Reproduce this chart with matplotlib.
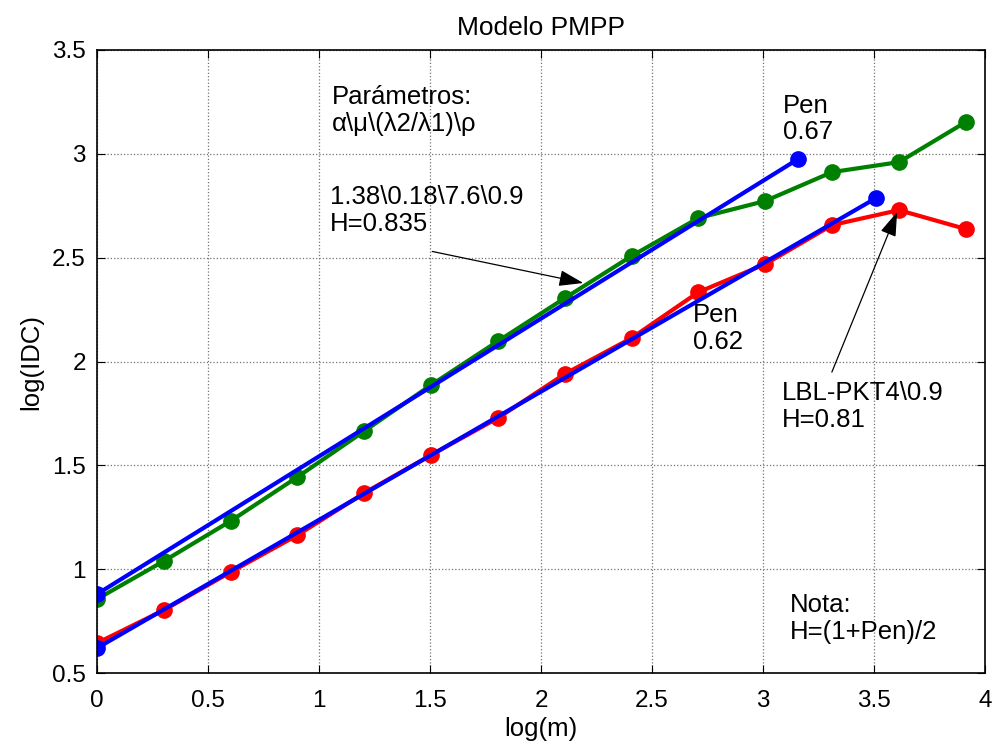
import matplotlib
matplotlib.use("Agg")
import matplotlib.pyplot as plt
import numpy as np

plt.rcParams['font.family'] = ['Liberation Sans', 'DejaVu Sans']

log_m = [0, 0.301, 0.602, 0.903, 1.204, 1.505, 1.806, 2.107, 2.408, 2.709, 3.010, 3.311, 3.612, 3.913]
green_y = [0.856, 1.039, 1.232, 1.444, 1.665, 1.887, 2.098, 2.305, 2.508, 2.691, 2.773, 2.912, 2.960, 3.153]
red_y = [0.644, 0.803, 0.986, 1.164, 1.367, 1.550, 1.728, 1.940, 2.113, 2.334, 2.469, 2.657, 2.729, 2.638]
blue1_x = [0, 3.158]
blue1_y = [0.880, 2.975]
blue2_x = [0, 3.509]
blue2_y = [0.620, 2.787]

xticks = [0, 0.5, 1, 1.5, 2, 2.5, 3, 3.5, 4]
yticks = [0.5, 1, 1.5, 2, 2.5, 3, 3.5]

fig = plt.figure(figsize=(9.93, 7.44), dpi=100)
ax = fig.add_axes([0.0977, 0.0954, 0.8943, 0.8374])

green = (0, 0.5, 0)
lw = 3
ms = 11
ax.plot(log_m, green_y, '-o', color=green, lw=lw, ms=ms)
ax.plot(log_m, red_y, '-o', color='red', lw=lw, ms=ms)
ax.plot(blue1_x, blue1_y, '-o', color='blue', lw=lw, ms=ms)
ax.plot(blue2_x, blue2_y, '-o', color='blue', lw=lw, ms=ms)

tfs = 17.5
ax.set_xlim(0, 4)
ax.set_ylim(0.5, 3.5)
ax.set_xticks(xticks)
ax.set_xticklabels([f"{t:g}" for t in xticks])
ax.set_yticks(yticks)
ax.set_yticklabels([f"{t:g}" for t in yticks])
ax.tick_params(direction='in', labelsize=tfs, length=6, top=True, right=True,
               labeltop=False, labelright=False)
ax.tick_params(axis='x', pad=12)
ax.tick_params(axis='y', pad=8)
ax.grid(True, linestyle=':', color='0.45', lw=0.9)
for s in ax.spines.values():
    s.set_linewidth(1.2)

ax.set_xlabel('log(m)', fontsize=18.5, labelpad=4)
ax.set_ylabel('log(IDC)', fontsize=18.5, labelpad=6)
ax.set_title('Modelo PMPP', fontsize=19, pad=11)

fs = 18.5
kw = dict(fontsize=fs, va='top', ha='left', linespacing=1.15, parse_math=False)
ax.text(1.059, 3.33, 'Parámetros:\nα\\μ\\(λ2/λ1)\\ρ', **kw)
ax.text(1.05, 2.85, '1.38\\0.18\\7.6\\0.9\nH=0.835', **kw)
ax.text(3.09, 3.29, 'Pen\n0.67', **kw)
ax.text(2.685, 2.28, 'Pen\n0.62', **kw)
ax.text(3.085, 1.905, 'LBL-PKT4\\0.9\nH=0.81', **kw)
ax.text(3.12, 0.885, 'Nota:\nH=(1+Pen)/2', **kw)

ap = dict(arrowstyle='-|>,head_length=1.5,head_width=0.5', color='black', lw=0.9,
          shrinkA=0, shrinkB=0)
ax.annotate('', xy=(2.19, 2.378), xytext=(1.51, 2.53), arrowprops=ap)
ax.annotate('', xy=(3.604, 2.72), xytext=(3.31, 1.949), arrowprops=ap)

fig.savefig('out.png', dpi=100)
